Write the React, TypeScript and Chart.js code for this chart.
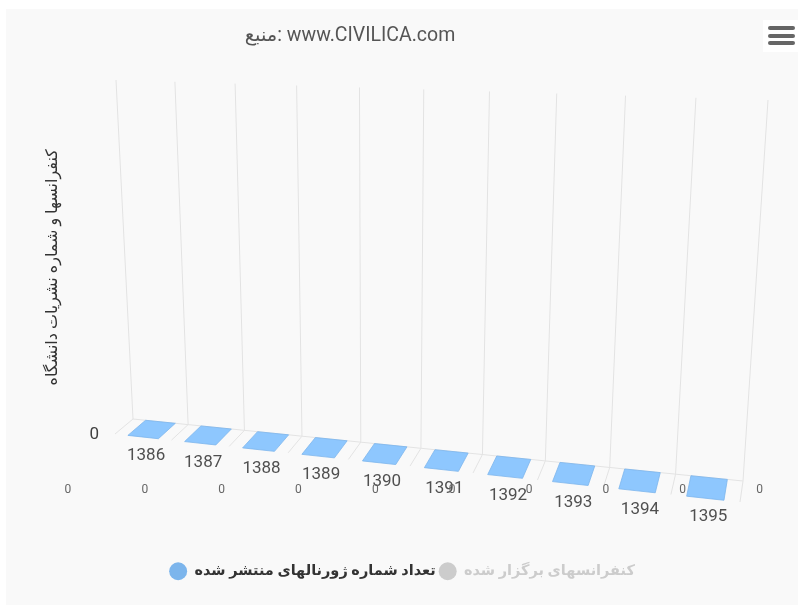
import React, { useEffect, useRef } from 'react';
import { Chart, registerables } from 'chart.js';

Chart.register(...registerables);

// ---------- data ----------
const categories = ['1386', '1387', '1388', '1389', '1390', '1391', '1392', '1393', '1394', '1395'];
const journalIssues = [0, 0, 0, 0, 0, 0, 0, 0, 0, 0];
const conferencesHeld = [0, 0, 0, 0, 0, 0, 0, 0, 0, 0];
const seriesNames = ['تعداد شماره ژورنالهای منتشر شده', 'کنفرانسهای برگزار شده'];
const yAxisTitle = 'کنفرانسها و شماره نشریات دانشگاه';
const sourceTitle = 'منبع: www.CIVILICA.com';

// ---------- styling ----------
const FONT = 'Roboto, "DejaVu Sans", sans-serif';
const SERIES_COLORS = ['#7cb5ec', '#434348'];
const HIDDEN_COLOR = '#cccccc';
const GRID_COLOR = '#e3e3e3';

// 3D frame corners on the canvas (back wall / floor), used for the perspective look
const FRAME = {
  bbl: { x: 127, y: 410 },
  btl: { x: 110, y: 71 },
  btr: { x: 762, y: 91 },
  bbr: { x: 737, y: 472 },
  fbl: { x: 109, y: 425 },
  fbr: { x: 734, y: 493 },
};
const FORESHORTEN = -0.106;

type P = { x: number; y: number };
const lerp = (a: P, b: P, t: number): P => ({ x: a.x + (b.x - a.x) * t, y: a.y + (b.y - a.y) * t });

function project(u: number, v: number, w: number): P {
  const s = ((1 + FORESHORTEN) * u) / (1 + FORESHORTEN * u);
  const bb = lerp(FRAME.bbl, FRAME.bbr, s);
  const bt = lerp(FRAME.btl, FRAME.btr, s);
  const fb = lerp(FRAME.fbl, FRAME.fbr, s);
  const ft = { x: fb.x + bt.x - bb.x, y: fb.y + bt.y - bb.y };
  const bottom = lerp(fb, bb, w);
  const top = lerp(ft, bt, w);
  return lerp(bottom, top, v);
}

function brighten(hex: string, amt: number): string {
  const n = parseInt(hex.slice(1), 16);
  const ch = [(n >> 16) & 255, (n >> 8) & 255, n & 255].map((c) => Math.min(255, Math.round(c + 255 * amt)));
  return `rgb(${ch[0]},${ch[1]},${ch[2]})`;
}

const column3d = {
  id: 'column3d',
  beforeDatasetsDraw(chart: any) {
    const { ctx, chartArea: a, scales } = chart;
    const xs = scales.x;
    const ys = scales.y;
    const W = a.right - a.left;
    const H = a.bottom - a.top;
    const uOf = (px: number) => (px - a.left) / W;
    const vOf = (py: number) => (a.bottom - py) / H;
    const n = chart.data.labels.length;
    const half = (xs.getPixelForValue(1) - xs.getPixelForValue(0)) / 2;

    const line = (p: P, q: P) => {
      ctx.beginPath();
      ctx.moveTo(p.x, p.y);
      ctx.lineTo(q.x, q.y);
      ctx.stroke();
    };

    ctx.save();
    // grid: back wall + floor
    ctx.strokeStyle = GRID_COLOR;
    ctx.lineWidth = 1;
    for (let i = 0; i <= n; i++) {
      const px = i < n ? xs.getPixelForValue(i) - half : xs.getPixelForValue(n - 1) + half;
      const u = uOf(px);
      line(project(u, 0, 1), project(u, 1, 1));
      line(project(u, 0, 1), project(u, 0, 0));
    }
    line(project(0, 0, 1), project(1, 0, 1));

    // columns
    chart.data.datasets.forEach((ds: any, di: number) => {
      if (!chart.isDatasetVisible(di)) return;
      const meta = chart.getDatasetMeta(di);
      const base = ds.backgroundColor as string;
      meta.data.forEach((el: any) => {
        const { x, y, base: b, width } = el.getProps(['x', 'y', 'base', 'width'], true);
        const u0 = uOf(x - width / 2);
        const u1 = uOf(x + width / 2);
        const vt = vOf(y);
        const vb = vOf(b);
        const poly = (pts: P[], fill: string) => {
          ctx.beginPath();
          pts.forEach((p, k) => (k ? ctx.lineTo(p.x, p.y) : ctx.moveTo(p.x, p.y)));
          ctx.closePath();
          ctx.fillStyle = fill;
          ctx.fill();
          ctx.strokeStyle = base;
          ctx.lineWidth = 0.8;
          ctx.stroke();
        };
        if (vt - vb > 0.0001) {
          poly([project(u1, vb, 0), project(u1, vb, 1), project(u1, vt, 1), project(u1, vt, 0)], brighten(base, -0.1));
          poly([project(u0, vb, 0), project(u1, vb, 0), project(u1, vt, 0), project(u0, vt, 0)], base);
        }
        poly([project(u0, vt, 0), project(u1, vt, 0), project(u1, vt, 1), project(u0, vt, 1)], brighten(base, 0.07));
      });
    });

    // category labels along the front edge of the floor
    ctx.fillStyle = '#505050';
    ctx.font = `17px ${FONT}`;
    ctx.textAlign = 'center';
    ctx.textBaseline = 'middle';
    for (let i = 0; i < n; i++) {
      const p = project(uOf(xs.getPixelForValue(i)), 0, 0);
      ctx.fillText(String(chart.data.labels[i]), p.x + 3, p.y + 19);
    }

    // y tick labels at the front-left corner
    ctx.fillStyle = '#404040';
    ctx.textAlign = 'right';
    ys.ticks.forEach((t: any) => {
      const p = project(0, vOf(ys.getPixelForValue(t.value)), 0);
      ctx.fillText(String(t.value), p.x - 16, p.y + 1);
    });

    // data labels
    ctx.fillStyle = '#666666';
    ctx.font = `12px ${FONT}`;
    ctx.textAlign = 'center';
    chart.data.datasets.forEach((ds: any, di: number) => {
      if (!chart.isDatasetVisible(di)) return;
      const meta = chart.getDatasetMeta(di);
      meta.data.forEach((el: any, k: number) => {
        const { x, y } = el.getProps(['x', 'y'], true);
        ctx.fillText(String(ds.data[k]), x, y - 15);
      });
    });
    ctx.restore();
    return false;
  },
};

export default function App() {
  const ref = useRef<HTMLCanvasElement>(null);

  useEffect(() => {
    const dataMax = Math.max(...journalIssues, ...conferencesHeld);
    const chart = new Chart(ref.current as HTMLCanvasElement, {
      type: 'bar',
      data: {
        labels: categories,
        datasets: [
          {
            label: seriesNames[0],
            data: journalIssues,
            backgroundColor: SERIES_COLORS[0],
            categoryPercentage: 0.6,
            barPercentage: 0.9,
          },
          {
            label: seriesNames[1],
            data: conferencesHeld,
            backgroundColor: SERIES_COLORS[1],
            hidden: true,
            categoryPercentage: 0.6,
            barPercentage: 0.9,
          },
        ],
      },
      options: {
        responsive: false,
        animation: false,
        layout: { padding: { top: 21, bottom: 16.5, left: 0, right: 0 } },
        scales: {
          x: { display: false },
          y: {
            beginAtZero: true,
            ticks: { display: false },
            grid: { display: false },
            border: { display: false },
            title: {
              display: true,
              text: yAxisTitle,
              color: '#333333',
              font: { family: FONT, size: 16 },
              padding: { top: 37, bottom: 0 },
            },
            afterBuildTicks: (scale: any) => {
              scale.ticks = scale.ticks.filter((t: any) => t.value <= dataMax);
            },
            afterFit: (scale: any) => {
              scale.width = 23.5;
            },
          } as any,
        },
        plugins: {
          tooltip: { enabled: false },
          legend: {
            position: 'bottom',
            title: { display: true, text: '', padding: { top: 42, bottom: 0 } },
            labels: {
              usePointStyle: true,
              pointStyle: 'circle',
              pointStyleWidth: 18,
              boxHeight: 12.73,
              padding: 3,
              font: { family: FONT, size: 14.5, weight: 'bold' },
              color: '#333333',
              generateLabels: (c: any) =>
                c.data.datasets.map((ds: any, i: number) => {
                  const vis = c.isDatasetVisible(i);
                  return {
                    text: ds.label,
                    fillStyle: vis ? ds.backgroundColor : HIDDEN_COLOR,
                    strokeStyle: 'rgba(0,0,0,0)',
                    lineWidth: 0,
                    fontColor: vis ? '#333333' : HIDDEN_COLOR,
                    hidden: false,
                    pointStyle: 'circle',
                    datasetIndex: i,
                  };
                }),
            },
          } as any,
        },
      },
      plugins: [column3d],
    });
    return () => chart.destroy();
  }, []);

  return (
    <div
      style={{
        position: 'absolute',
        left: 6,
        top: 9,
        width: 792,
        height: 596,
        background: '#f9f9f9',
        overflow: 'hidden',
      }}
    >
      <canvas ref={ref} width={792} height={596} style={{ display: 'block' }} />
      <div
        style={{
          position: 'absolute',
          left: 144,
          top: 16,
          width: 400,
          textAlign: 'center',
          font: `19.5px ${FONT}`,
          lineHeight: '20px',
          color: '#555555',
          whiteSpace: 'nowrap',
          direction: 'ltr',
        }}
      >
        {sourceTitle}
      </div>
      <div style={{ position: 'absolute', left: 757, top: 11, width: 35, height: 32, background: '#ffffff' }}>
        {[6, 13.5, 21].map((t) => (
          <div
            key={t}
            style={{ position: 'absolute', left: 5, top: t, width: 27, height: 4, borderRadius: 2, background: '#666666' }}
          />
        ))}
      </div>
    </div>
  );
}
